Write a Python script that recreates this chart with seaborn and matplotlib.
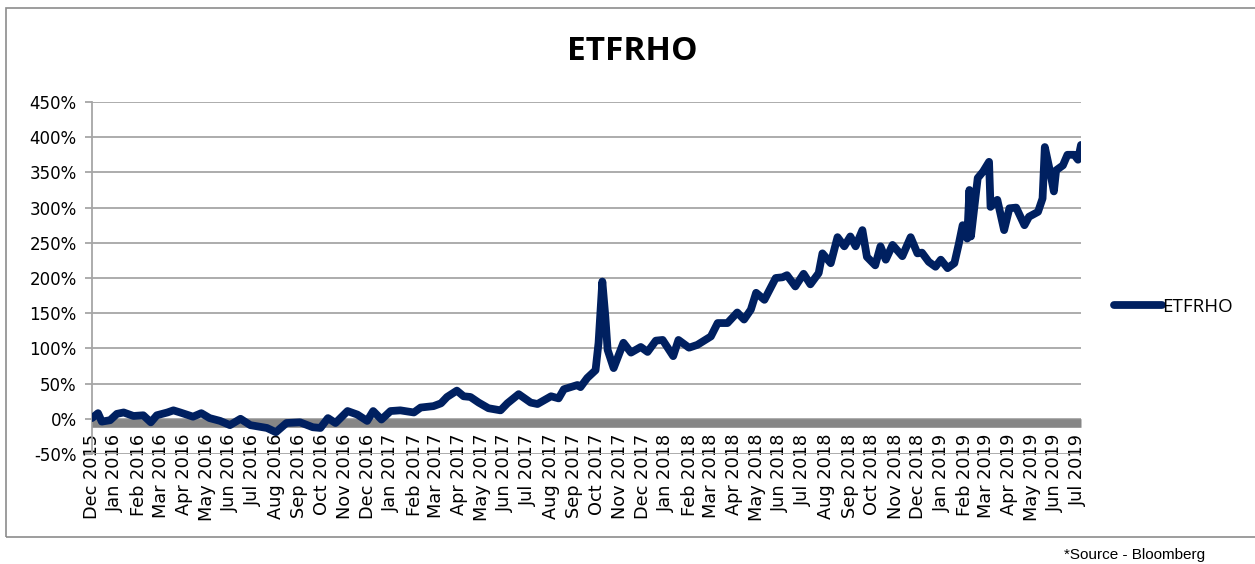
import numpy as np
import pandas as pd
import seaborn as sns
import matplotlib.pyplot as plt
from matplotlib.patches import Rectangle

# data (cumulative return, %)
dates = [
    "2015-12-01", "2015-12-09", "2015-12-14", "2015-12-25", "2016-01-03", "2016-01-12",
    "2016-01-25", "2016-02-07", "2016-02-17", "2016-02-25", "2016-03-10", "2016-03-18",
    "2016-03-27", "2016-04-13", "2016-04-24", "2016-05-05", "2016-05-19", "2016-06-01",
    "2016-06-15", "2016-06-28", "2016-07-20", "2016-08-01", "2016-08-15", "2016-09-02",
    "2016-09-19", "2016-09-29", "2016-10-09", "2016-10-19", "2016-11-04", "2016-11-17",
    "2016-11-30", "2016-12-08", "2016-12-19", "2016-12-31", "2017-01-13", "2017-01-31",
    "2017-02-09", "2017-02-26", "2017-03-08", "2017-03-16", "2017-03-29", "2017-04-07",
    "2017-04-16", "2017-04-27", "2017-05-10", "2017-05-26", "2017-06-04", "2017-06-19",
    "2017-07-05", "2017-07-14", "2017-08-01", "2017-08-11", "2017-08-18", "2017-09-05",
    "2017-09-09", "2017-09-18", "2017-09-29", "2017-10-03", "2017-10-08", "2017-10-12",
    "2017-10-15", "2017-10-23", "2017-11-05", "2017-11-15", "2017-11-28", "2017-12-07",
    "2017-12-18", "2017-12-27", "2018-01-10", "2018-01-17", "2018-01-31", "2018-02-11",
    "2018-03-01", "2018-03-10", "2018-03-23", "2018-04-05", "2018-04-14", "2018-04-23",
    "2018-04-30", "2018-05-11", "2018-05-26", "2018-06-04", "2018-06-10", "2018-06-21",
    "2018-07-02", "2018-07-11", "2018-07-22", "2018-07-27", "2018-08-07", "2018-08-16",
    "2018-08-25", "2018-09-02", "2018-09-09", "2018-09-18", "2018-09-24", "2018-10-05",
    "2018-10-12", "2018-10-19", "2018-10-28", "2018-11-10", "2018-11-21", "2018-11-30",
    "2018-12-06", "2018-12-15", "2018-12-24", "2018-12-31", "2019-01-09", "2019-01-18",
    "2019-01-24", "2019-01-29", "2019-02-04", "2019-02-07", "2019-02-09", "2019-02-18",
    "2019-02-25", "2019-03-05", "2019-03-07", "2019-03-16", "2019-03-25", "2019-04-01",
    "2019-04-10", "2019-04-21", "2019-04-27", "2019-05-09", "2019-05-15", "2019-05-18",
    "2019-05-24", "2019-05-30", "2019-06-02", "2019-06-11", "2019-06-17", "2019-06-26",
    "2019-07-01", "2019-07-05",
]
etfrho = [
    1, 8, -4, -2, 7, 9,
    4, 5, -5, 5, 9, 12,
    9, 3, 8, 1, -3, -9,
    0, -9, -13, -19, -6, -5,
    -12, -13, 1, -6, 11, 6,
    -3, 11, -1, 11, 12, 9,
    16, 18, 22, 31, 40, 32,
    31, 23, 15, 12, 22, 35,
    23, 21, 32, 29, 42, 48,
    45, 58, 69, 108, 195, 145,
    98, 72, 108, 94, 102, 95,
    111, 112, 89, 112, 101, 105,
    117, 136, 136, 151, 141, 155,
    179, 169, 200, 201, 204, 188,
    206, 191, 207, 235, 221, 258,
    245, 259, 245, 268, 230, 218,
    245, 226, 247, 231, 258, 235,
    236, 223, 216, 226, 214, 221,
    249, 275, 256, 325, 259, 342,
    351, 365, 301, 311, 268, 299,
    300, 275, 287, 294, 313, 386,
    356, 323, 353, 360, 375, 375,
    368, 389,
]
y_ticks = [-50, 0, 50, 100, 150, 200, 250, 300, 350, 400, 450]

df = pd.DataFrame({"date": pd.to_datetime(dates), "ETFRHO": etfrho})

navy = "#002060"
grey = "#868686"

sns.set_style("white")
plt.rcParams['font.family'] = ['DejaVu Sans']
plt.rcParams['text.color'] = 'black'
plt.rcParams['xtick.color'] = 'black'
plt.rcParams['ytick.color'] = 'black'

fig = plt.figure(figsize=(12.55, 5.64), dpi=100)
ax = fig.add_axes([92 / 1255, 1 - 454 / 564, 989 / 1255, 352 / 564])

sns.lineplot(data=df, x="date", y="ETFRHO", ax=ax, color=navy, linewidth=5.6,
             label="ETFRHO", solid_capstyle="round", solid_joinstyle="round", zorder=3)

ax.set_ylim(-50, 450)
ax.set_yticks(y_ticks)
ax.set_yticklabels([f"{v}%" for v in y_ticks])
ax.set_xlim(pd.Timestamp("2015-12-01"), pd.Timestamp("2019-07-05"))
months = pd.date_range("2015-12-01", "2019-07-01", freq="MS")
ax.set_xticks(months)
ax.set_xticklabels([m.strftime("%b %Y") for m in months])
ax.set_xlabel("")
ax.set_ylabel("")

ax.grid(axis="y", color="#a6a6a6", linewidth=1.3)
ax.grid(axis="x", visible=False)
for s in ["top", "right"]:
    ax.spines[s].set_visible(False)
ax.spines["left"].set_color("#a6a6a6")
ax.spines["left"].set_linewidth(1.3)
ax.spines["bottom"].set_position(("data", -5.5))
ax.spines["bottom"].set_color(grey)
ax.spines["bottom"].set_linewidth(6.2)
ax.spines["bottom"].set_capstyle("butt")
ax.tick_params(axis="x", length=0, pad=8, labelrotation=90, labelsize=12.8)
ax.tick_params(axis="y", length=5, color="#a6a6a6", width=1.3, pad=6, left=True,
               labelsize=12)

leg = ax.legend(loc="center left", bbox_to_anchor=(1097 / 1255, 1 - 307 / 564),
                bbox_transform=fig.transFigure, frameon=False, handlelength=2.55,
                handletextpad=0.05, prop={"family": "Open Sans", "size": 13.5})
for h in leg.get_lines():
    h.set_linewidth(5.6)
    h.set_solid_capstyle("round")

fig.text(632 / 1255, 1 - 52 / 564, "ETFRHO", ha="center", va="center",
         fontsize=24, fontweight="bold", family="Open Sans")
fig.text(1205 / 1255, 1 - 555 / 564, "*Source - Bloomberg", ha="right", va="center",
         fontsize=11, family="Liberation Sans")

fig.patches.append(Rectangle((6 / 1255, 1 - 537 / 564), 1260 / 1255, 529 / 564,
                             transform=fig.transFigure, fill=False,
                             edgecolor="#8c8c8c", linewidth=1.2))

fig.savefig("out.png", dpi=100)
